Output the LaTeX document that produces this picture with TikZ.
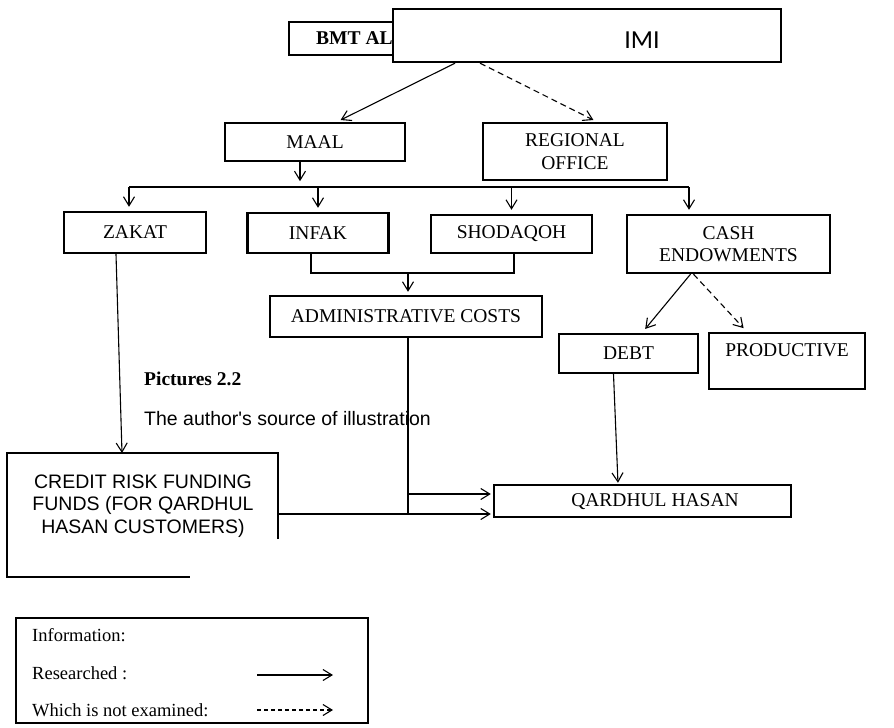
\documentclass[tikz,border=0pt]{standalone}
\usepackage{fontspec}
\setmainfont{Liberation Serif}
\setsansfont{Liberation Sans}
\newfontfamily\imifont{Carlito}
\usetikzlibrary{arrows.meta,positioning}

\begin{document}
\begin{tikzpicture}[x=1pt, y=-1pt, >={Straight Barb[length=9pt,width=11pt]},
  box/.style={draw, line width=2.4pt, inner sep=0pt, align=center, font=\fontsize{19.5}{22.5}\selectfont},
  plain/.style={inner sep=0pt, anchor=west, font=\fontsize{19.5}{22.5}\selectfont},
  conn/.style={line width=1.1pt},
  arr/.style={conn, ->},
  notyet/.style={conn, ->, dash pattern=on 6pt off 4pt}]
\useasboundingbox (0,0) rectangle (894,728);
\node[box, minimum width=211, minimum height=33] (bmt) at (394.5,38.5) {};
\node[plain, font=\fontsize{19.5}{22.5}\selectfont\bfseries] (bmttext) at (316,38.5) {BMT AL};
\node[box, fill=white, minimum width=388, minimum height=53] (imi) at (587,35.5) {};
\node[font=\imifont\fontsize{26}{30}\selectfont] (imitext) at (642,40) {IMI};
\node[box, minimum width=180, minimum height=38] (maal) at (315,142) {MAAL};
\node[box, minimum width=184, minimum height=57] (regional) at (575,151.5) {REGIONAL\\OFFICE};
\node[box, minimum width=142, minimum height=41] (zakat) at (135,232.5) {ZAKAT};
\node[box, minimum width=141, minimum height=40] (infak) at (318,233) {INFAK};
\node[box, minimum width=161, minimum height=38] (shod) at (511.5,234) {SHODAQOH};
\node[box, minimum width=203, minimum height=58] (cash) at (728.5,244) {CASH\\ENDOWMENTS};
\node[box, minimum width=272, minimum height=41] (admin) at (406,316.5) {ADMINISTRATIVE COSTS};
\node[box, minimum width=139, minimum height=39] (debt) at (628.5,353.5) {DEBT};
\node[box, minimum width=156, minimum height=56] (prod) at (787,361) {PRODUCTIVE\\ };
\node[box, minimum width=297, minimum height=32] (qh) at (642.5,501) {};
\node[font=\fontsize{19.5}{22.5}\selectfont] (qhtext) at (655,502) {QARDHUL HASAN};
\draw[line width=2.4pt] (278,539) -- (278,453) -- (7,453) -- (7,577) -- (190,577);
\node[align=center, font=\sffamily\fontsize{19.5}{22.5}\selectfont] (credit) at (143,506) {CREDIT RISK FUNDING\\FUNDS (FOR QARDHUL\\HASAN CUSTOMERS)};
\coordinate (creditT) at (122,453);
\coordinate (creditR) at (278,514);
\node[plain, font=\fontsize{19.5}{22.5}\selectfont\bfseries] (pictitle) at (144,379) {Pictures 2.2};
\node[plain, font=\sffamily\fontsize{19.5}{22.5}\selectfont] (picsource) at (144,419) {The author\textquotesingle s source of illustration};
\coordinate (busL) at (129,187);
\coordinate (busR) at (689,187);
\coordinate (join) at (408,273);
\draw[arr, shorten >=4pt] ([xshift=-132pt]imi.south) -- ([xshift=22pt]maal.north);
\draw[notyet, shorten >=4pt] ([xshift=-107pt]imi.south) -- ([xshift=22pt]regional.north);
\draw[arr] ([xshift=-15pt]maal.south) -- ++(0,19);
\draw[conn] (busL) -- (busR);
\draw[arr, shorten >=4pt] (busL) -- (busL |- zakat.north);
\draw[arr, shorten >=4pt] (infak.north |- busL) -- (infak.north);
\draw[arr, shorten >=4pt] (shod.north |- busL) -- (shod.north);
\draw[arr, shorten >=4pt] (busR) -- (busR |- cash.north);
\draw[conn] ([xshift=-7pt]infak.south) |- (join) -| ([xshift=2.5pt]shod.south);
\draw[arr, shorten >=3pt] (join) -- (join |- admin.north);
\draw[conn] (join |- admin.south) -- (join |- creditR);
\draw[arr, shorten >=2pt] (join |- 0,494) -- (qh.west |- 0,494);
\draw[arr, shorten >=2pt] (creditR) -- (qh.west |- creditR);
\draw[arr] ([xshift=-19pt]zakat.south) -- (creditT);
\draw[arr, shorten >=5pt] ([xshift=-38pt]cash.south) -- ([xshift=13.5pt]debt.north);
\draw[notyet, shorten >=5pt] ([xshift=-35pt]cash.south) -- ([xshift=-40pt]prod.north);
\draw[arr, shorten >=1pt] ([xshift=-15pt]debt.south) -- ([xshift=-24.5pt]qh.north);
\node[box, line width=2pt, minimum width=352, minimum height=105] (legend) at (192,670.5) {};
\node[plain, font=\fontsize{18.5}{21}\selectfont] (info) at (32,635) {Information:};
\node[plain, font=\fontsize{18.5}{21}\selectfont] (researched) at (32,673) {Researched :};
\node[plain, font=\fontsize{18.5}{21}\selectfont] (notexam) at (32,710) {Which is not examined:};
\coordinate (solidA) at (257,675);
\coordinate (solidB) at (333,675);
\coordinate (dashA) at (257,710);
\coordinate (dashB) at (333,710);
\draw[arr] (solidA) -- (solidB);
\draw[notyet, dash pattern=on 4pt off 3pt] (dashA) -- (dashB);
\end{tikzpicture}
\end{document}
